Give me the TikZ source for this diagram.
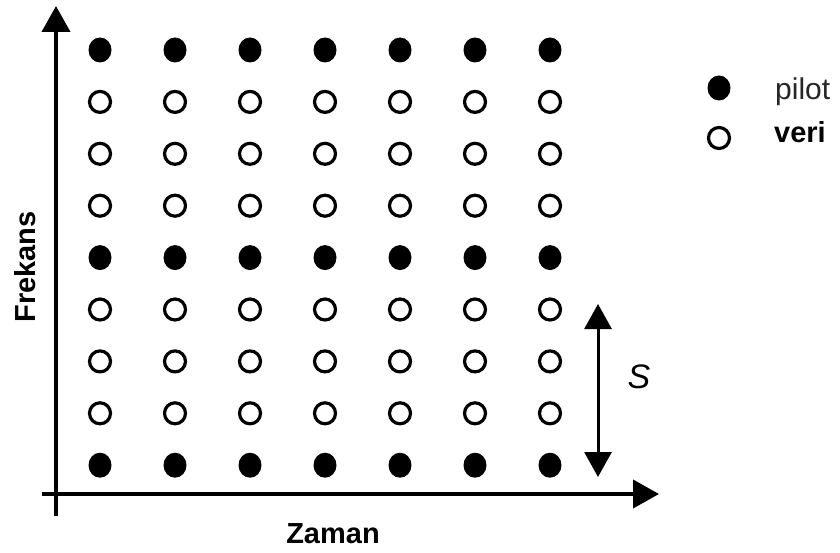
\documentclass[tikz,border=0pt]{standalone}
\usepackage{fontspec}
\setmainfont{Liberation Sans}
\usetikzlibrary{arrows.meta,shapes.geometric}
\begin{document}
\begin{tikzpicture}[x=1pt,y=-1pt,
  pilotdot/.style={ellipse,fill=black,minimum width=23pt,minimum height=25pt,inner sep=0pt},
  veridot/.style={circle,draw=black,line width=3.2pt,fill=white,minimum size=21pt,inner sep=0pt},
  axisline/.style={line width=4pt,-{Triangle[length=26pt,width=28pt]}},
  lbl/.style={inner sep=0pt}]
\useasboundingbox (0,0) rectangle (840,553);
\fill[white] (0,0) rectangle (840,553);
% axes
\coordinate (ybot) at (56,516);
\coordinate (ytop) at (56,6);
\coordinate (xleft) at (42,494);
\coordinate (xright) at (659,494);
\draw[axisline] (ybot) -- (ytop);
\draw[axisline] (xleft) -- (xright);
% grid
\foreach \i in {0,...,6}{
  \foreach \j in {0,...,8}{
    \pgfmathsetmacro{\px}{100+75*\i}
    \pgfmathsetmacro{\py}{50+51.9*\j}
    \ifnum\j=0 \node[pilotdot] (d-\i-\j) at (\px,\py) {};
    \else\ifnum\j=4 \node[pilotdot] (d-\i-\j) at (\px,\py) {};
    \else\ifnum\j=8 \node[pilotdot] (d-\i-\j) at (\px,\py) {};
    \else \node[veridot] (d-\i-\j) at (\px,\py) {};
    \fi\fi\fi
  }
}
% S spacing arrow
\coordinate (stop) at (598,304);
\coordinate (sbot) at (598,477);
\draw[line width=3pt,{Triangle[length=25pt,width=27pt]}-{Triangle[length=25pt,width=27pt]}] (stop) -- (sbot);
\node[lbl,anchor=base,font=\itshape\fontsize{34}{38}\selectfont] (S) at (639,388) {S};
% axis labels
\node[lbl,anchor=base,font=\bfseries\fontsize{29}{33}\selectfont] (zaman) at (333,543) {Zaman};
\node[lbl,anchor=base,font=\bfseries\fontsize{29}{33}\selectfont,rotate=90] (frekans) at (35,267) {Frekans};
% legend
\node[pilotdot] (lp) at (719,88) {};
\node[veridot] (lv) at (719,138) {};
\node[lbl,anchor=base west,text=black!85,font=\fontsize{30}{34}\selectfont] (pilot) at (775,100) {pilot};
\node[lbl,anchor=base west,font=\bfseries\fontsize{29}{33}\selectfont] (veri) at (774,143) {veri};
\end{tikzpicture}
\end{document}
